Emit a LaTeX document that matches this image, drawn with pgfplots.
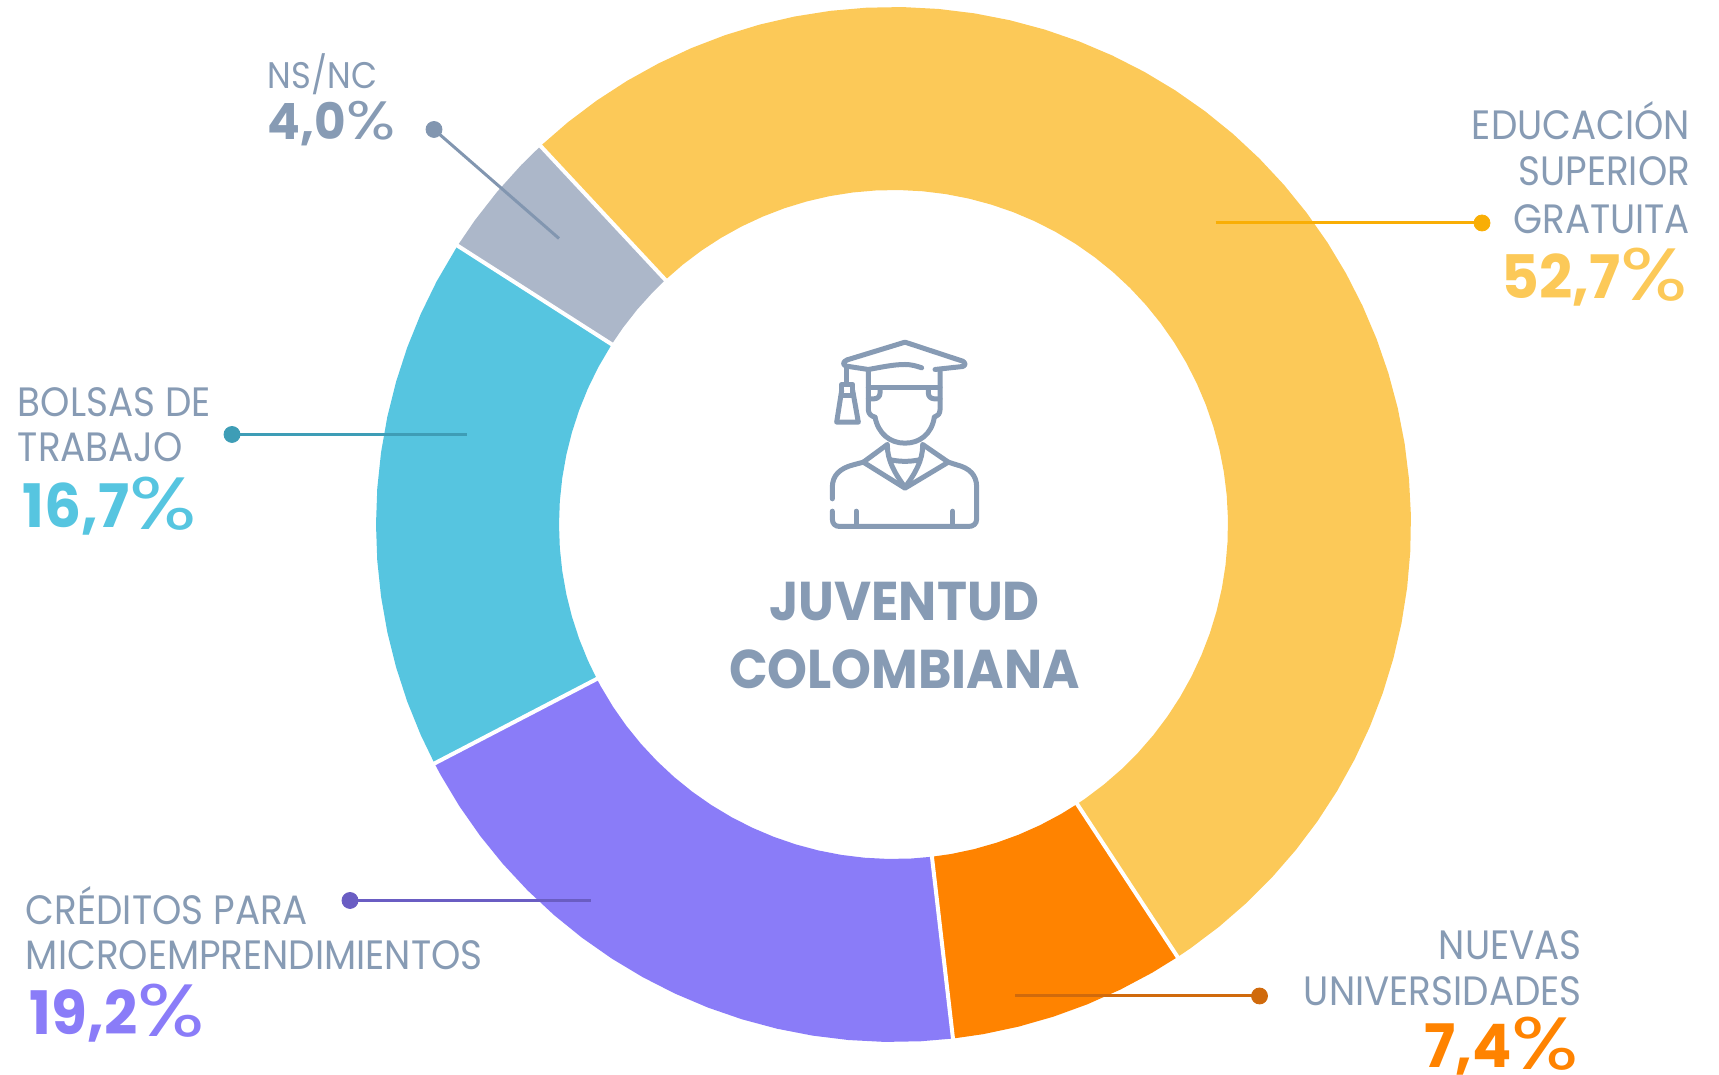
\documentclass[border=0pt]{standalone}
\usepackage{fontspec}
\usepackage{pgfplots}
\usepgfplotslibrary{polar}
\pgfplotsset{compat=1.18}
\setmainfont{Poppins}
\newfontfamily\lab{Poppins}[FakeStretch=0.91]
\newfontfamily\num{Poppins}[BoldFont={Poppins Bold},FakeStretch=0.97]
\newfontfamily\pcf{Poppins}[FakeStretch=1.2]
\newfontfamily\ctr{Poppins}[BoldFont={Poppins Bold},FakeStretch=0.93]
\definecolor{cyel}{HTML}{FCC958}
\definecolor{cora}{HTML}{FF8300}
\definecolor{cpur}{HTML}{8A7CF8}
\definecolor{cblu}{HTML}{56C5E0}
\definecolor{cgry}{HTML}{ACB7C9}
\definecolor{ctxt}{HTML}{879BB4}
\definecolor{lyel}{HTML}{F9AE05}
\definecolor{lora}{HTML}{D06A0C}
\definecolor{lpur}{HTML}{6A5DC3}
\definecolor{lblu}{HTML}{3E9DB6}
\definecolor{lgry}{HTML}{8296B0}
\newcommand{\txt}[4]{\node[anchor=base #3,inner sep=0pt,text=ctxt,font=\lab\fontsize{20.5}{24}\selectfont] at (axis cs:#1,#2) {#4};}
\newcommand{\pc}{{\pcf\mdseries\fontsize{37}{40}\selectfont\raisebox{-1.2pt}{\%}}}
\newcommand{\pct}[5]{\node[anchor=base #3,inner sep=0pt,text=#5,font=\num\bfseries\fontsize{30}{34}\selectfont] at (axis cs:#1,#2) {#4\pc};}
\begin{document}
\begin{tikzpicture}
\path[use as bounding box] (0,0) rectangle (859.5pt,537.5pt);
\begin{axis}[at={(0,0)},anchor=south west,scale only axis,width=859.5pt,height=537.5pt,
  xmin=-893.5,xmax=825.5,ymin=-550.5,ymax=524.5,hide axis,clip=false]
% wedges: (angle, radius)
\addplot[fill=cyel,draw=none,data cs=polar] coordinates {
(133,517.5)(129,517.5)(125,517.5)(121,517.5)(117,517.5)(113,517.5)(109,517.5)(105,517.5)(101,517.5)(97,517.5)(93,517.5)(89,517.5)(85,517.5)(81,517.5)(77,517.5)(73,517.5)(69,517.5)(65,517.5)(61,517.5)(57,517.5)(53,517.5)(49,517.5)(45,517.5)(41,517.5)(37,517.5)(33,517.5)(29,517.5)(25,517.5)(21,517.5)(17,517.5)(13,517.5)(9,517.5)(5,517.5)(1,517.5)(-3,517.5)(-7,517.5)(-11,517.5)(-15,517.5)(-19,517.5)(-23,517.5)(-27,517.5)(-31,517.5)(-35,517.5)(-39,517.5)(-43,517.5)(-47,517.5)(-51,517.5)(-55,517.5)(-56.7,517.5)
(-56.7,334.5)(-55,334.5)(-51,334.5)(-47,334.5)(-43,334.5)(-39,334.5)(-35,334.5)(-31,334.5)(-27,334.5)(-23,334.5)(-19,334.5)(-15,334.5)(-11,334.5)(-7,334.5)(-3,334.5)(1,334.5)(5,334.5)(9,334.5)(13,334.5)(17,334.5)(21,334.5)(25,334.5)(29,334.5)(33,334.5)(37,334.5)(41,334.5)(45,334.5)(49,334.5)(53,334.5)(57,334.5)(61,334.5)(65,334.5)(69,334.5)(73,334.5)(77,334.5)(81,334.5)(85,334.5)(89,334.5)(93,334.5)(97,334.5)(101,334.5)(105,334.5)(109,334.5)(113,334.5)(117,334.5)(121,334.5)(125,334.5)(129,334.5)(133,334.5)(133,517.5)};
\addplot[fill=cora,draw=none,data cs=polar] coordinates {
(-56.7,517.5)(-60,517.5)(-64,517.5)(-68,517.5)(-72,517.5)(-76,517.5)(-80,517.5)(-83.4,517.5)
(-83.4,334.5)(-80,334.5)(-76,334.5)(-72,334.5)(-68,334.5)(-64,334.5)(-60,334.5)(-56.7,334.5)(-56.7,517.5)};
\addplot[fill=cpur,draw=none,data cs=polar] coordinates {
(-83.4,517.5)(-87,517.5)(-91,517.5)(-95,517.5)(-99,517.5)(-103,517.5)(-107,517.5)(-111,517.5)(-115,517.5)(-119,517.5)(-123,517.5)(-127,517.5)(-131,517.5)(-135,517.5)(-139,517.5)(-143,517.5)(-147,517.5)(-151,517.5)(-152.5,517.5)
(-152.5,334.5)(-151,334.5)(-147,334.5)(-143,334.5)(-139,334.5)(-135,334.5)(-131,334.5)(-127,334.5)(-123,334.5)(-119,334.5)(-115,334.5)(-111,334.5)(-107,334.5)(-103,334.5)(-99,334.5)(-95,334.5)(-91,334.5)(-87,334.5)(-83.4,334.5)(-83.4,517.5)};
\addplot[fill=cblu,draw=none,data cs=polar] coordinates {
(-152.5,517.5)(-156,517.5)(-160,517.5)(-164,517.5)(-168,517.5)(-172,517.5)(-176,517.5)(-180,517.5)(-184,517.5)(-188,517.5)(-192,517.5)(-196,517.5)(-200,517.5)(-204,517.5)(-208,517.5)(-212.6,517.5)
(-212.6,334.5)(-208,334.5)(-204,334.5)(-200,334.5)(-196,334.5)(-192,334.5)(-188,334.5)(-184,334.5)(-180,334.5)(-176,334.5)(-172,334.5)(-168,334.5)(-164,334.5)(-160,334.5)(-156,334.5)(-152.5,334.5)(-152.5,517.5)};
\addplot[fill=cgry,draw=none,data cs=polar] coordinates {
(-212.6,517.5)(-216,517.5)(-220,517.5)(-224,517.5)(-227,517.5)
(-227,334.5)(-224,334.5)(-220,334.5)(-216,334.5)(-212.6,334.5)(-212.6,517.5)};
% separators
\addplot[white,line width=2pt,data cs=polar] coordinates {(133,325)(133,527)};
\addplot[white,line width=2pt,data cs=polar] coordinates {(-56.7,325)(-56.7,527)};
\addplot[white,line width=2pt,data cs=polar] coordinates {(-83.4,325)(-83.4,527)};
\addplot[white,line width=2pt,data cs=polar] coordinates {(-152.5,325)(-152.5,527)};
\addplot[white,line width=2pt,data cs=polar] coordinates {(-212.6,325)(-212.6,527)};
% leaders
\addplot[lyel,line width=1.5pt] coordinates {(322,301.5)(588.5,301.5)};
\addplot[lyel,only marks,mark=*,mark size=4pt,mark options={draw=none,fill=lyel}] coordinates {(588.5,301.5)};
\addplot[lora,line width=1.5pt] coordinates {(121.5,-471.5)(366,-471.5)};
\addplot[lora,only marks,mark=*,mark size=4pt,mark options={draw=none,fill=lora}] coordinates {(366,-471.5)};
\addplot[lpur,line width=1.5pt] coordinates {(-543.5,-376)(-302.5,-376)};
\addplot[lpur,only marks,mark=*,mark size=4pt,mark options={draw=none,fill=lpur}] coordinates {(-543.5,-376)};
\addplot[lblu,line width=1.5pt] coordinates {(-661.5,90)(-426.5,90)};
\addplot[lblu,only marks,mark=*,mark size=4pt,mark options={draw=none,fill=lblu}] coordinates {(-661.5,90)};
\addplot[lgry,line width=1.5pt] coordinates {(-459.5,395)(-334.5,286)};
\addplot[lgry,only marks,mark=*,mark size=4pt,mark options={draw=none,fill=lgry}] coordinates {(-459.5,395)};
% labels
\txt{797}{385}{east}{EDUCACIÓN}
\txt{797}{339}{east}{SUPERIOR}
\txt{797}{291}{east}{GRATUITA}
\pct{794.5}{226}{east}{52,7}{cyel}
\txt{-876}{108}{west}{BOLSAS DE}
\txt{-876}{62.5}{west}{TRABAJO}
\pct{-871.5}{-3}{west}{16,7}{cblu}
\txt{-868}{-400}{west}{CRÉDITOS PARA}
\txt{-868}{-445}{west}{MICROEMPRENDIMIENTOS}
\pct{-864}{-510}{west}{19,2}{cpur}
\txt{688.5}{-435}{east}{NUEVAS}
\txt{688.5}{-481}{east}{UNIVERSIDADES}
\pct{686}{-543}{east}{7,4}{cora}
\node[anchor=base west,inner sep=0pt,text=ctxt,font=\lab\fontsize{18.5}{22}\selectfont] at (axis cs:-626,436) {NS/NC};
\node[anchor=base west,inner sep=0pt,text=ctxt,font=\num\bfseries\fontsize{25}{30}\selectfont] at (axis cs:-626,385) {4,0{\pcf\mdseries\fontsize{27}{30}\selectfont\%}};
\node[anchor=base,inner sep=0pt,text=ctxt,font=\ctr\bfseries\fontsize{27.3}{32}\selectfont] at (axis cs:11,-95.6) {JUVENTUD};
\node[anchor=base,inner sep=0pt,text=ctxt,font=\ctr\bfseries\fontsize{27.3}{32}\selectfont] at (axis cs:11,-164) {COLOMBIANA};
% icon
\begin{scope}[shift={(axis cs:-93.5,204)},x=0.16667pt,y=-0.16667pt,draw=ctxt,line width=2.5pt,line cap=round,line join=round]
\draw (142,118) -- (315,65) -- (488,122) .. controls (497,127) and (497,135) .. (488,138) -- (405,147);
\draw (142,118) -- (135,122) .. controls (128,127) and (130,135) .. (140,137) -- (205,147) .. controls (245,140) and (280,132) .. (315,132) .. controls (335,132) and (350,137) .. (365,142);
\draw (140,137) -- (140,192);
\draw (125,192) -- (158,192) -- (158,225) -- (125,225) -- cycle;
\draw (125,210) -- (110,305) -- (175,305) -- (158,210);
\draw (205,147) -- (205,268) .. controls (205,280) and (215,288) .. (225,290);
\draw (420,147) -- (420,268) .. controls (420,280) and (412,288) .. (403,290);
\draw (205,200) -- (420,200);
\draw (240,205) -- (240,218) .. controls (240,228) and (232,235) .. (222,235) -- (205,235);
\draw (385,205) -- (385,218) .. controls (385,228) and (393,235) .. (403,235) -- (420,235);
\draw (225,290) .. controls (235,340) and (270,368) .. (315,368) .. controls (360,368) and (395,340) .. (403,290);
\draw (262,372) -- (190,425) -- (315,503) -- (445,425) -- (368,372);
\draw (262,375) .. controls (262,420) and (285,460) .. (315,500) .. controls (345,460) and (368,420) .. (368,375);
\draw (272,418) .. controls (300,424) and (330,424) .. (358,418);
\draw (190,425) -- (160,433) .. controls (120,443) and (97,465) .. (97,500) -- (97,535);
\draw (97,572) -- (97,595) .. controls (97,610) and (105,618) .. (120,618) -- (505,618) .. controls (520,618) and (530,610) .. (530,595) -- (530,500) .. controls (530,465) and (510,443) .. (470,433) -- (445,425);
\draw (168,572) -- (168,618);
\draw (458,572) -- (458,618);
\end{scope}
\end{axis}
\end{tikzpicture}
\end{document}
